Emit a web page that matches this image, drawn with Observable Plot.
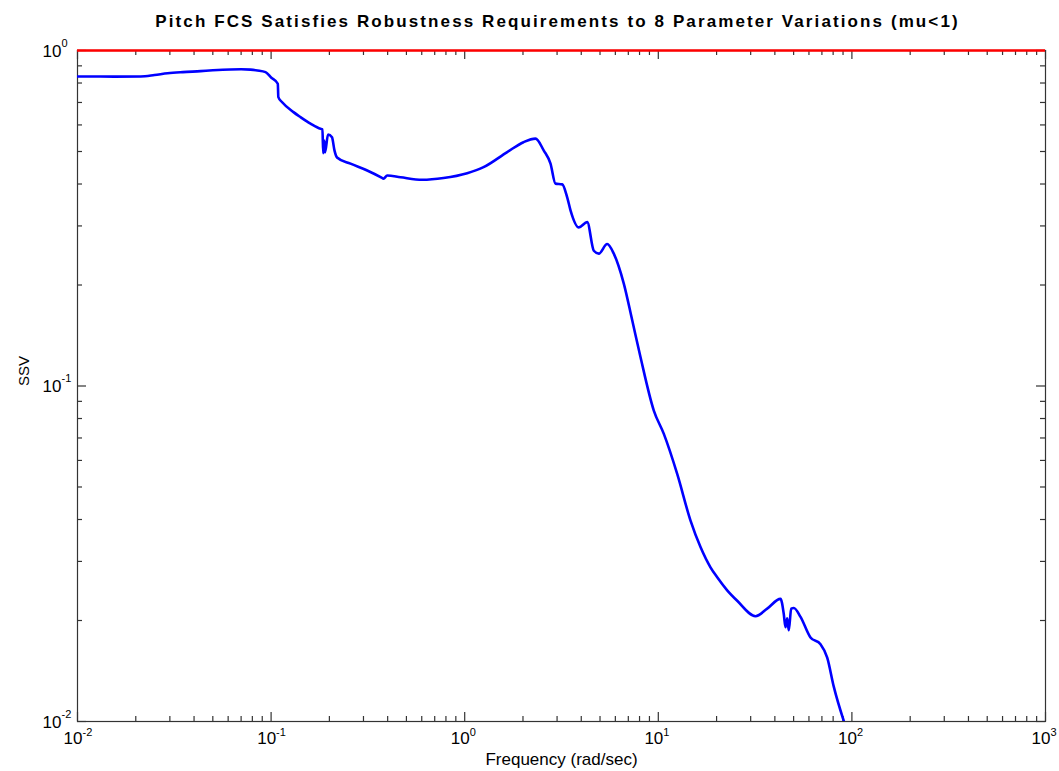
<!DOCTYPE html>
<html>
<head>
<meta charset="utf-8">
<script src="https://cdn.jsdelivr.net/npm/d3@7"></script>
<script src="https://cdn.jsdelivr.net/npm/@observablehq/plot@0.6"></script>
<style>
  html, body { margin: 0; padding: 0; background: #fff; }
  #chart svg { display: block; }
</style>
</head>
<body>
<div id="chart"></div>
<script>
// ---- Data ----
const frequency = [
  0.01, 0.0155, 0.0212, 0.0250, 0.0292, 0.0350, 0.0432, 0.0500, 0.0617, 0.0700,
  0.0783, 0.0850, 0.0936, 0.1000,
  0.1083, 0.1090, 0.1141, 0.1305, 0.1418, 0.1598, 0.1800, 0.1842, 0.1858, 0.1882,
  0.1900, 0.1968, 0.2063, 0.2126, 0.2190, 0.2571, 0.3136, 0.3720, 0.3807, 0.3979,
  0.4661, 0.6033, 0.7773, 1.030, 1.251, 1.658, 2.012, 2.321, 2.563, 2.775,
  2.944, 3.189, 3.384, 3.520, 3.885, 4.293, 4.644, 4.928, 5.445, 5.890,
  6.634, 7.333, 8.09, 9.48, 10.68, 12.52, 14.67, 16.52, 18.60, 20.15,
  22.69, 25.56, 31.77, 36.52, 42.78, 44.48, 45.39, 46.32, 47.21, 48.58,
  50.11, 54.27, 61.11, 68.84, 74.56, 80.6, 91.5
];
const ssv = [
  0.837, 0.836, 0.837, 0.845, 0.855, 0.862, 0.868, 0.873, 0.878, 0.879,
  0.877, 0.872, 0.862, 0.831,
  0.796, 0.726, 0.701, 0.655, 0.633, 0.605, 0.584, 0.582, 0.494, 0.539,
  0.497, 0.562, 0.551, 0.503, 0.480, 0.460, 0.439, 0.418, 0.415, 0.424,
  0.419, 0.412, 0.417, 0.431, 0.449, 0.498, 0.533, 0.546, 0.503, 0.460,
  0.401, 0.399, 0.365, 0.334, 0.297, 0.308, 0.253, 0.248, 0.265, 0.248,
  0.202, 0.157, 0.122, 0.0845, 0.0720, 0.0547, 0.0397, 0.0331, 0.0288, 0.0269,
  0.0246, 0.0229, 0.0206, 0.0217, 0.0232, 0.0209, 0.0191, 0.0203, 0.0187, 0.0217,
  0.0218, 0.0205, 0.0178, 0.0170, 0.0155, 0.0127, 0.0099
];
const muLimit = [1];
const xDecades = [0.01, 0.1, 1, 10, 100, 1000];
const xExponents = ["-2", "-1", "0", "1", "2", "3"];
const yDecades = [0.01, 0.1, 1];
const yExponents = ["-2", "-1", "0"];
const titleText = "Pitch FCS Satisfies Robustness Requirements to 8 Parameter Variations (mu<1)";
const xLabelText = "Frequency (rad/sec)";
const yLabelText = "SSV";

// ---- Build ----
const curve = frequency.map((f, i) => ({f, v: ssv[i]}));
const minorOf = (decades) => decades.slice(0, -1).flatMap(d => [2,3,4,5,6,7,8,9].map(m => m * d));
const xMinor = minorOf(xDecades);
const yMinor = minorOf(yDecades);

const W = 1059, H = 771, mL = 77, mR = 14, mT = 50, mB = 50;
const pw = W - mL - mR, ph = H - mT - mB;
const majorLen = 9, minorLen = 5;
const axisColor = "#333";
const font = "'Liberation Sans', Arial, Helvetica, sans-serif";

const chart = Plot.plot({
  width: W, height: H,
  marginLeft: mL, marginRight: mR, marginTop: mT, marginBottom: mB,
  x: {type: "log", domain: [0.01, 1000], axis: null},
  y: {type: "log", domain: [0.01, 1], axis: null},
  style: {fontFamily: font, background: "#fff", color: "#000"},
  marks: [
    Plot.frame({stroke: axisColor, strokeWidth: 1.2}),
    // bottom & top ticks
    Plot.tickX(xDecades, {x: d => d, stroke: axisColor, strokeWidth: 1.2, insetTop: ph - majorLen}),
    Plot.tickX(xMinor, {x: d => d, stroke: axisColor, strokeWidth: 1.2, insetTop: ph - minorLen}),
    Plot.tickX(xDecades, {x: d => d, stroke: axisColor, strokeWidth: 1.2, insetBottom: ph - majorLen}),
    Plot.tickX(xMinor, {x: d => d, stroke: axisColor, strokeWidth: 1.2, insetBottom: ph - minorLen}),
    // left & right ticks
    Plot.tickY(yDecades, {y: d => d, stroke: axisColor, strokeWidth: 1.2, insetRight: pw - majorLen}),
    Plot.tickY(yMinor, {y: d => d, stroke: axisColor, strokeWidth: 1.2, insetRight: pw - minorLen}),
    Plot.tickY(yDecades, {y: d => d, stroke: axisColor, strokeWidth: 1.2, insetLeft: pw - majorLen}),
    Plot.tickY(yMinor, {y: d => d, stroke: axisColor, strokeWidth: 1.2, insetLeft: pw - minorLen}),
    // limit line and SSV curve
    Plot.ruleY(muLimit, {y: d => d, stroke: "#ff0000", strokeWidth: 2.6}),
    Plot.lineY(curve, {x: "f", y: "v", stroke: "#0000ff", strokeWidth: 2.6, curve: "monotone-x", clip: true}),
    // x tick labels
    Plot.text(xDecades, {x: d => d, text: () => "10", frameAnchor: "bottom", textAnchor: "end",
      lineAnchor: "bottom", dx: 5, dy: 22, fontSize: 17, fill: "#000"}),
    Plot.text(xDecades, {x: d => d, text: (d, i) => xExponents[i], frameAnchor: "bottom", textAnchor: "start",
      lineAnchor: "bottom", dx: 5, dy: 14, fontSize: 11, fill: "#000"}),
    // y tick labels
    Plot.text(yDecades, {y: d => d, text: () => "10", frameAnchor: "left", textAnchor: "end",
      lineAnchor: "bottom", dx: -16, dy: 6, fontSize: 17, fill: "#000"}),
    Plot.text(yDecades, {y: d => d, text: (d, i) => yExponents[i], frameAnchor: "left", textAnchor: "start",
      lineAnchor: "bottom", dx: -16, dy: -4, fontSize: 11, fill: "#000"}),
    // title and axis labels
    Plot.text([titleText], {text: d => d, frameAnchor: "top", lineAnchor: "bottom", dy: -24, dx: -4,
      fontSize: 17, fontWeight: "bold", fill: "#000"}),
    Plot.text([xLabelText], {text: d => d, frameAnchor: "bottom", lineAnchor: "bottom", dy: 43,
      fontSize: 17, fill: "#000"}),
    Plot.text([yLabelText], {text: d => d, frameAnchor: "left", lineAnchor: "bottom", rotate: -90,
      dx: -49, fontSize: 15, fill: "#000"})
  ]
});
// widen the title's letter spacing to match the reference's wide bitmap font
d3.select(chart).selectAll("text")
  .filter(function () { return this.textContent === titleText; })
  .style("letter-spacing", "2.1px");
document.getElementById("chart").appendChild(chart);
</script>
</body>
</html>
